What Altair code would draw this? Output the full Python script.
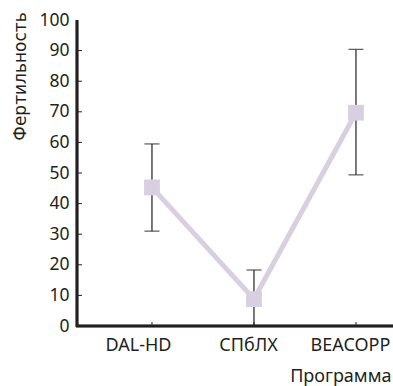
import altair as alt
import pandas as pd

categories = ["DAL-HD", "СПбЛХ", "BEACOPP"]
fertility = [45.3, 8.8, 69.7]
err_low = [31.0, 0.0, 49.4]
err_high = [59.5, 18.3, 90.4]
y_ticks = [10, 20, 30, 40, 50, 60, 70, 80, 90]

df = pd.DataFrame({
    "pos": list(range(1, len(categories) + 1)),
    "cat": categories,
    "val": fertility,
    "lo": err_low,
    "hi": err_high,
})
ticks_df = pd.DataFrame({"t": y_ticks})

label_expr = " : ".join(
    [f"datum.value == {i + 1} ? '{c}'" for i, c in enumerate(categories)]
) + " : ''"

font = "Noto Sans"
ink = "#231f20"
lav = "#d8cfe0"

xscale = alt.Scale(domain=[0.265, 3.363], nice=False, zero=False)
yscale = alt.Scale(domain=[0, 100], nice=False)

ax_x = alt.Axis(
    values=[1, 2, 3], labelExpr=label_expr, title="Программа",
    grid=False, ticks=False, domain=False,
    labelFont=font, labelFontSize=18, labelColor=ink, labelPadding=10,
    labelOverlap=False, labelFlush=False, labelBound=False,
    labelOffset={"condition": {"test": "datum.value == 1", "value": -14},
                 "value": -6},
    titleFont=font, titleFontSize=18, titleFontWeight="normal", titleColor=ink,
    titleAnchor="end", titleAlign="right", titleX=314, titleY=50,
    titleBaseline="middle",
)
ax_y = alt.Axis(
    values=list(range(0, 101, 10)), title="Фертильность",
    grid=False, ticks=False, domain=False,
    labelFont=font, labelFontSize=17.5, labelColor=ink, labelPadding=8,
    labelOverlap=False, labelFlush=False, labelBound=False,
    titleFont="DejaVu Sans", titleFontSize=17, titleFontWeight="normal", titleColor=ink,
    titleAngle=270, titleAlign="center", titleBaseline="middle",
    titleX=-57, titleY=56,
)

base = alt.Chart(df)
xs = alt.X("pos:Q", scale=xscale, axis=ax_x)

line = base.mark_line(color=lav, strokeWidth=5).encode(
    x=xs, y=alt.Y("val:Q", scale=yscale, axis=ax_y))
rule = base.mark_rule(color=ink, strokeWidth=1.2).encode(
    x=xs, y=alt.Y("lo:Q", scale=yscale, axis=ax_y), y2="hi:Q")
cap_hi = base.mark_tick(color=ink, size=15, thickness=1.3, orient="horizontal").encode(
    x=xs, y=alt.Y("hi:Q", scale=yscale, axis=ax_y))
cap_lo = base.mark_tick(color=ink, size=15, thickness=1.3, orient="horizontal").encode(
    x=xs, y=alt.Y("lo:Q", scale=yscale, axis=ax_y))
pts = base.mark_square(color=lav, opacity=1, size=250).encode(
    x=xs, y=alt.Y("val:Q", scale=yscale, axis=ax_y))

ytick_marks = alt.Chart(ticks_df).mark_rule(color=ink, strokeWidth=1).encode(
    y=alt.Y("t:Q", scale=yscale, axis=ax_y), x=alt.value(0), x2=alt.value(5))
xtick_marks = base.mark_rule(color=ink, strokeWidth=1).encode(
    x=xs, y=alt.value(306), y2=alt.value(302))

y_domain = base.mark_rule(color=ink, strokeWidth=2.5).encode(
    x=alt.value(0), y=alt.value(0), y2=alt.value(307))
x_domain = base.mark_rule(color=ink, strokeWidth=2.5).encode(
    x=alt.value(-1), x2=alt.value(316), y=alt.value(306))

chart = alt.layer(
    ytick_marks, xtick_marks, line, rule, cap_hi, cap_lo, pts, y_domain, x_domain
).properties(
    width=316, height=306,
    autosize=alt.AutoSizeParams(type="none"),
    padding={"left": 77, "top": 20, "right": 0, "bottom": 60},
).configure(background="white").configure_view(stroke=None)

chart.save("out.html", embed_options={"renderer": "svg", "actions": False})
